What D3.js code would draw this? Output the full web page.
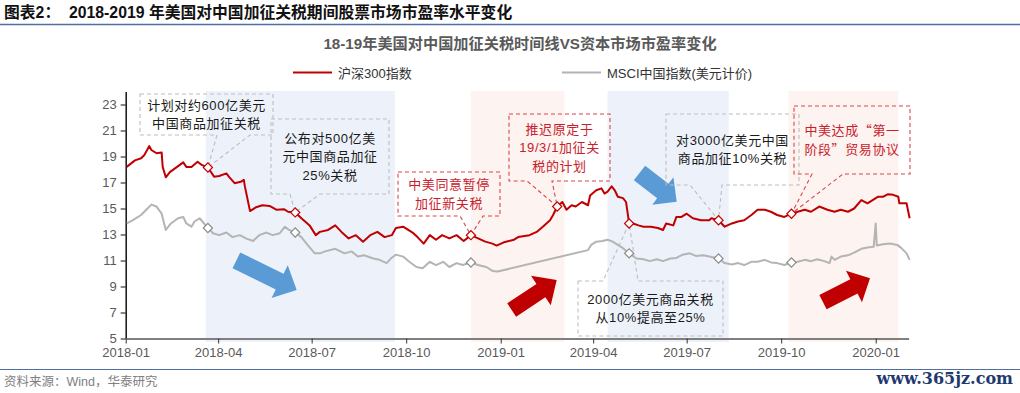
<!DOCTYPE html>
<html>
<head>
<meta charset="utf-8">
<script src="https://cdn.jsdelivr.net/npm/d3@7"></script>
<style>
  body { margin: 0; background: #fff; }
  svg { display: block; font-family: "Liberation Sans", "Noto Sans CJK SC", sans-serif; }
</style>
</head>
<body>
<div id="chart"></div>
<script>
// 沪深300 市盈率
const csi300 = [
  ["2018-01-02",18.2],["2018-01-10",18.7],["2018-01-16",18.86],["2018-01-19",19.1],["2018-01-24",19.8],
  ["2018-01-26",19.5],["2018-01-31",19.25],["2018-02-05",19.3],["2018-02-06",18.2],["2018-02-09",17.4],
  ["2018-02-13",17.8],["2018-02-20",18.2],["2018-02-26",18.55],["2018-03-01",18.2],["2018-03-06",18.2],
  ["2018-03-12",18.6],["2018-03-16",18.35],["2018-03-22",18.15],["2018-03-28",17.45],["2018-04-02",17.5],
  ["2018-04-09",17.7],["2018-04-12",17.4],["2018-04-17",16.95],["2018-04-23",17.05],["2018-04-26",17.2],
  ["2018-04-27",16.7],["2018-05-02",14.8],["2018-05-08",15.1],["2018-05-14",15.25],["2018-05-21",15.2],
  ["2018-05-28",14.9],["2018-06-04",14.95],["2018-06-08",14.75],["2018-06-15",14.7],["2018-06-21",14.25],
  ["2018-06-29",13.7],["2018-07-05",12.95],["2018-07-09",13.2],["2018-07-17",13.35],["2018-07-24",13.7],
  ["2018-07-30",13.2],["2018-08-06",12.7],["2018-08-13",12.95],["2018-08-20",12.45],["2018-08-27",12.95],
  ["2018-09-03",13.2],["2018-09-10",12.8],["2018-09-17",12.95],["2018-09-21",13.5],["2018-09-28",13.6],
  ["2018-10-08",13.1],["2018-10-12",12.8],["2018-10-18",12.3],["2018-10-24",12.95],["2018-10-30",12.6],
  ["2018-11-05",12.95],["2018-11-12",12.7],["2018-11-19",12.95],["2018-11-26",12.5],["2018-12-03",12.95],
  ["2018-12-10",12.7],["2018-12-17",12.45],["2018-12-24",12.3],["2018-12-28",12.15],["2019-01-04",12.4],
  ["2019-01-14",12.6],["2019-01-18",12.8],["2019-01-29",12.95],["2019-02-05",13.2],["2019-02-11",13.6],
  ["2019-02-18",14.1],["2019-02-21",14.5],["2019-02-25",15.15],["2019-03-02",15.5],["2019-03-06",14.9],
  ["2019-03-11",15.25],["2019-03-15",15.15],["2019-03-21",15.5],["2019-03-27",15.25],["2019-03-29",16.0],
  ["2019-04-04",16.4],["2019-04-09",16.55],["2019-04-12",16.15],["2019-04-15",16.3],["2019-04-19",16.7],
  ["2019-04-22",16.4],["2019-04-25",15.9],["2019-04-30",15.8],["2019-05-03",15.5],["2019-05-06",13.85],
  ["2019-05-10",13.85],["2019-05-15",13.7],["2019-05-20",13.6],["2019-05-27",13.6],["2019-06-03",13.5],
  ["2019-06-08",13.35],["2019-06-11",13.85],["2019-06-18",13.7],["2019-06-21",14.35],["2019-06-26",14.35],
  ["2019-07-01",14.6],["2019-07-07",14.25],["2019-07-15",14.1],["2019-07-23",14.1],["2019-07-25",14.25],
  ["2019-08-01",14.1],["2019-08-07",13.6],["2019-08-14",13.85],["2019-08-20",14.0],["2019-08-26",14.1],
  ["2019-09-02",14.5],["2019-09-08",14.9],["2019-09-15",14.9],["2019-09-21",14.75],["2019-09-27",14.5],
  ["2019-10-04",14.35],["2019-10-11",14.6],["2019-10-17",14.75],["2019-10-24",14.9],["2019-10-30",14.75],
  ["2019-11-07",15.15],["2019-11-15",14.9],["2019-11-22",14.75],["2019-11-28",14.9],["2019-12-05",14.75],
  ["2019-12-11",15.0],["2019-12-18",15.65],["2019-12-24",15.4],["2019-12-29",15.65],["2020-01-03",15.9],
  ["2020-01-08",15.9],["2020-01-13",16.1],["2020-01-18",16.05],["2020-01-23",15.9],["2020-01-24",15.4],
  ["2020-01-31",15.4],["2020-02-03",14.25]
];

// MSCI中国 市盈率(美元计价)
const msciChina = [
  ["2018-01-02",13.85],["2018-01-08",14.1],["2018-01-16",14.5],["2018-01-21",14.9],["2018-01-26",15.3],
  ["2018-01-31",15.15],["2018-02-05",14.6],["2018-02-09",13.35],["2018-02-14",13.85],["2018-02-21",14.25],
  ["2018-02-26",14.35],["2018-03-01",13.85],["2018-03-06",13.6],["2018-03-09",14.0],["2018-03-14",14.25],
  ["2018-03-22",13.5],["2018-03-27",13.1],["2018-04-02",12.95],["2018-04-09",13.15],["2018-04-15",12.8],
  ["2018-04-22",12.95],["2018-04-28",12.7],["2018-05-05",12.5],["2018-05-11",12.95],["2018-05-18",13.15],
  ["2018-05-24",12.95],["2018-05-31",13.1],["2018-06-05",13.6],["2018-06-09",13.35],["2018-06-15",13.15],
  ["2018-06-21",12.8],["2018-06-27",12.2],["2018-07-04",11.55],["2018-07-09",11.55],["2018-07-14",11.7],
  ["2018-07-24",11.9],["2018-08-02",11.55],["2018-08-09",11.7],["2018-08-15",11.3],["2018-08-21",11.4],
  ["2018-08-30",11.15],["2018-09-05",11.05],["2018-09-12",10.8],["2018-09-16",11.15],["2018-09-21",11.45],
  ["2018-09-28",11.3],["2018-10-04",10.9],["2018-10-11",10.5],["2018-10-17",10.4],["2018-10-24",10.9],
  ["2018-10-30",10.65],["2018-11-06",10.9],["2018-11-12",10.5],["2018-11-19",10.8],["2018-11-25",10.65],
  ["2018-12-03",10.85],["2018-12-10",10.65],["2018-12-18",10.5],["2018-12-24",10.2],["2018-12-29",10.15],
  ["2019-03-27",11.8],["2019-03-30",12.2],["2019-04-04",12.45],["2019-04-10",12.5],["2019-04-15",12.6],
  ["2019-04-20",12.45],["2019-04-25",12.2],["2019-04-30",11.95],["2019-05-06",11.55],["2019-05-13",11.15],
  ["2019-05-20",11.1],["2019-05-26",10.95],["2019-06-02",11.1],["2019-06-08",10.95],["2019-06-15",11.15],
  ["2019-06-21",11.2],["2019-06-27",11.45],["2019-07-04",11.55],["2019-07-10",11.35],["2019-07-17",11.4],
  ["2019-07-23",11.3],["2019-08-01",11.15],["2019-08-07",10.8],["2019-08-14",10.7],["2019-08-20",10.8],
  ["2019-08-26",10.65],["2019-09-02",10.9],["2019-09-08",10.9],["2019-09-15",11.05],["2019-09-21",10.85],
  ["2019-09-27",10.8],["2019-10-04",10.65],["2019-10-11",10.85],["2019-10-17",10.9],["2019-10-24",11.05],
  ["2019-10-30",10.95],["2019-11-05",11.1],["2019-11-12",10.95],["2019-11-17",10.8],["2019-11-19",11.3],
  ["2019-11-22",11.05],["2019-11-28",11.3],["2019-12-05",11.4],["2019-12-11",11.6],["2019-12-18",11.9],
  ["2019-12-24",12.0],["2019-12-30",12.05],["2020-01-01",13.85],["2020-01-02",12.15],["2020-01-08",12.25],
  ["2020-01-15",12.3],["2020-01-22",12.2],["2020-01-26",11.95],["2020-01-31",11.55],["2020-02-03",11.05]
];

const eventDates = ["2018-03-22","2018-06-15","2018-12-03","2019-02-25","2019-05-06","2019-08-01","2019-10-11"];

// 阴影区间: 蓝=加征, 红=缓和
const periods = [
  {from: "2018-03-20", to: "2018-09-20", kind: "up"},
  {from: "2018-12-03", to: "2019-03-04", kind: "down"},
  {from: "2019-04-15", to: "2019-08-11", kind: "up"},
  {from: "2019-10-08", to: "2020-01-23", kind: "down"}
];

const yTicks = [5, 7, 9, 11, 13, 15, 17, 19, 21, 23];
const seriesNames = ["沪深300指数", "MSCI中国指数(美元计价)"];

const notes = [
  {date: "2018-03-22", text: ["计划对约600亿美元", "中国商品加征关税"], box: [140, 94, 273, 135], base: [217, 250], red: false},
  {date: "2018-06-15", text: ["公布对500亿美", "元中国商品加征", "25%关税"], box: [271, 119, 389, 194], base: [290, 320], red: false},
  {date: "2018-12-03", text: ["中美同意暂停", "加征新关税"], box: [398, 172, 500, 216], base: [460, 483], red: true},
  {date: "2019-02-25", text: ["推迟原定于", "19/3/1加征关", "税的计划"], box: [509, 114, 610, 181], base: [527, 552], red: true},
  {date: "2019-05-06", text: ["2000亿美元商品关税", "从10%提高至25%"], box: [578, 281, 723, 336], base: [603, 638], red: false, up: true},
  {date: "2019-08-01", text: ["对3000亿美元中国", "商品加征10%关税"], box: [666, 114, 799, 185], base: [690, 722], red: false},
  {date: "2019-10-11", text: ["中美达成“第一", "阶段”贸易协议"], box: [794, 106, 910, 174], base: [812, 843], red: true, cjk: true}
];

const W = 1020, H = 393;
const RED = "#C00000", GRAY = "#B4B4B4";
const parse = d3.utcParse("%Y-%m-%d");

const svg = d3.select("#chart").append("svg")
  .attr("width", W).attr("height", H);

// header
svg.append("text")
  .attr("x", 4).attr("y", 18)
  .attr("font-size", 15.8).attr("font-weight", "bold").attr("fill", "#111")
  .attr("xml:space", "preserve")
  .text("图表2：  2018-2019 年美国对中国加征关税期间股票市场市盈率水平变化");
svg.append("line").attr("x1", 0).attr("x2", W).attr("y1", 24.5).attr("y2", 24.5)
  .attr("stroke", "#4F6FA3").attr("stroke-width", 1.3);

svg.append("text")
  .attr("x", 520).attr("y", 49).attr("text-anchor", "middle")
  .attr("font-size", 15.2).attr("font-weight", "bold").attr("fill", "#595959")
  .text("18-19年美国对中国加征关税时间线VS资本市场市盈率变化");

// legend
const legend = [{x: 293, color: RED}, {x: 562, color: GRAY}];
legend.forEach((l, i) => {
  svg.append("line").attr("x1", l.x).attr("x2", l.x + 39).attr("y1", 72.5).attr("y2", 72.5)
    .attr("stroke", l.color).attr("stroke-width", 2);
  svg.append("text").attr("x", l.x + 45).attr("y", 77.5)
    .attr("font-size", 13).attr("fill", "#333").text(seriesNames[i]);
});

// scales
const x = d3.scaleUtc()
  .domain([parse("2018-01-01"), parse("2020-02-02")])
  .range([125.7, 908.6]);
const y = d3.scaleLinear().domain([5, 24]).range([338.5, 91.5]);

// shading
svg.append("g").selectAll("rect")
  .data(periods)
  .join("rect")
  .attr("x", d => x(parse(d.from)))
  .attr("width", d => x(parse(d.to)) - x(parse(d.from)))
  .attr("y", 91)
  .attr("height", 251)
  .attr("fill", d => d.kind === "up" ? "#EDF2FA" : "#FDF3F0");

// axes
const yAxis = svg.append("g")
  .attr("transform", "translate(125.7,0)")
  .call(d3.axisLeft(y).tickValues(yTicks).tickSize(5).tickSizeOuter(0).tickPadding(4));
yAxis.select(".domain").attr("stroke", "#111").attr("stroke-width", 1.5);
yAxis.selectAll(".tick line").attr("stroke", "#111");
yAxis.selectAll("text").attr("font-size", 13).attr("fill", "#595959")
  .attr("font-family", "Liberation Sans, sans-serif");

const xAxis = svg.append("g")
  .attr("transform", "translate(0,338.5)")
  .call(d3.axisBottom(x).ticks(d3.utcMonth.every(3)).tickFormat(d3.utcFormat("%Y-%m"))
    .tickSize(5).tickSizeOuter(0).tickPadding(4));
xAxis.select(".domain").attr("stroke", "#7F7F7F").attr("stroke-width", 1.8);
xAxis.selectAll(".tick line").attr("stroke", "#333");
xAxis.selectAll("text").attr("font-size", 13).attr("fill", "#595959")
  .attr("font-family", "Liberation Sans, sans-serif");

// lines
const line = d3.line().x(d => x(parse(d[0]))).y(d => y(d[1]));
svg.append("path").datum(msciChina)
  .attr("fill", "none").attr("stroke", GRAY).attr("stroke-width", 2)
  .attr("stroke-linejoin", "round").attr("d", line);
svg.append("path").datum(csi300)
  .attr("fill", "none").attr("stroke", RED).attr("stroke-width", 2)
  .attr("stroke-linejoin", "round").attr("d", line);

// block arrows
function blockArrow(tail, tip, shaftW, headW, headL) {
  const dx = tip[0] - tail[0], dy = tip[1] - tail[1], L = Math.hypot(dx, dy);
  const ux = dx / L, uy = dy / L, px = -uy, py = ux;
  const bx = tip[0] - ux * headL, by = tip[1] - uy * headL;
  const p = [
    [tail[0] + px * shaftW / 2, tail[1] + py * shaftW / 2],
    [bx + px * shaftW / 2, by + py * shaftW / 2],
    [bx + px * headW / 2, by + py * headW / 2],
    tip,
    [bx - px * headW / 2, by - py * headW / 2],
    [bx - px * shaftW / 2, by - py * shaftW / 2],
    [tail[0] - px * shaftW / 2, tail[1] - py * shaftW / 2]
  ];
  return "M" + p.map(q => q.join(",")).join("L") + "Z";
}
const arrows = [
  {tail: [236.4, 260.3], tip: [296.7, 290], sw: 17.6, hw: 36.7, hl: 19, color: "#5B9BD5"},
  {tail: [639.5, 173], tip: [676.7, 201.7], sw: 18.6, hw: 34.7, hl: 17.5, color: "#5B9BD5"},
  {tail: [511.7, 310], tip: [556.7, 280], sw: 16, hw: 35.6, hl: 19, color: RED},
  {tail: [823, 302.2], tip: [870, 278.3], sw: 16, hw: 35.3, hl: 18, color: RED}
];
svg.append("g").selectAll("path").data(arrows).join("path")
  .attr("d", d => blockArrow(d.tail, d.tip, d.sw, d.hw, d.hl))
  .attr("fill", d => d.color);

// callouts
const valueAt = (series, date) => { const r = series.find(d => d[0] === date); return r ? r[1] : null; };
const noteG = svg.append("g");
notes.forEach(n => {
  const [x0, y0, x1, y1] = n.box;
  const tx = x(parse(n.date)), ty = y(valueAt(csi300, n.date));
  let path;
  if (n.up) {
    path = `M${x0},${y0}H${n.base[0]}L${tx},${ty}L${n.base[1]},${y0}H${x1}V${y1}H${x0}Z`;
  } else {
    path = `M${x0},${y0}H${x1}V${y1}H${n.base[1]}L${tx},${ty}L${n.base[0]},${y1}H${x0}Z`;
  }
  const stroke = n.red ? "#D9474A" : "#BDBDBD";
  noteG.append("path").attr("d", path).attr("fill", "none")
    .attr("stroke", stroke).attr("stroke-width", 1.1).attr("stroke-dasharray", "4,3");
  const cy = (y0 + y1) / 2, lh = 18.5;
  n.text.forEach((t, i) => {
    noteG.append("text")
      .attr("x", (x0 + x1) / 2)
      .attr("y", cy + (i - (n.text.length - 1) / 2) * lh + 4.5)
      .attr("text-anchor", "middle")
      .attr("font-size", 13)
      .attr("letter-spacing", 0.6)
      .attr("font-family", n.cjk ? "Noto Sans CJK SC, sans-serif" : null)
      .attr("fill", n.red ? "#C8202A" : "#1A1A1A")
      .text(t);
  });
});

// event markers
const diamond = d3.symbol(d3.symbolSquare, 42);
const markers = svg.append("g");
eventDates.forEach(dt => {
  [[msciChina, "#8C8C8C"], [csi300, RED]].forEach(([s, c]) => {
    const v = valueAt(s, dt);
    if (v == null) return;
    markers.append("path").attr("d", diamond)
      .attr("transform", `translate(${x(parse(dt))},${y(v)}) rotate(45)`)
      .attr("fill", "#fff").attr("stroke", c).attr("stroke-width", 1.2);
  });
});

// footer
svg.append("line").attr("x1", 0).attr("x2", W).attr("y1", 369.5).attr("y2", 369.5)
  .attr("stroke", "#4F6FA3").attr("stroke-width", 1.2);
svg.append("text").attr("x", 4).attr("y", 386)
  .attr("font-size", 12.5).attr("fill", "#808080").text("资料来源：Wind，华泰研究");
svg.append("text").attr("x", 1013).attr("y", 384).attr("text-anchor", "end")
  .attr("font-size", 16).attr("font-weight", "bold").attr("fill", "#1F3A6E")
  .attr("font-family", "DejaVu Serif, serif").text("www.365jz.com");
</script>
</body>
</html>
